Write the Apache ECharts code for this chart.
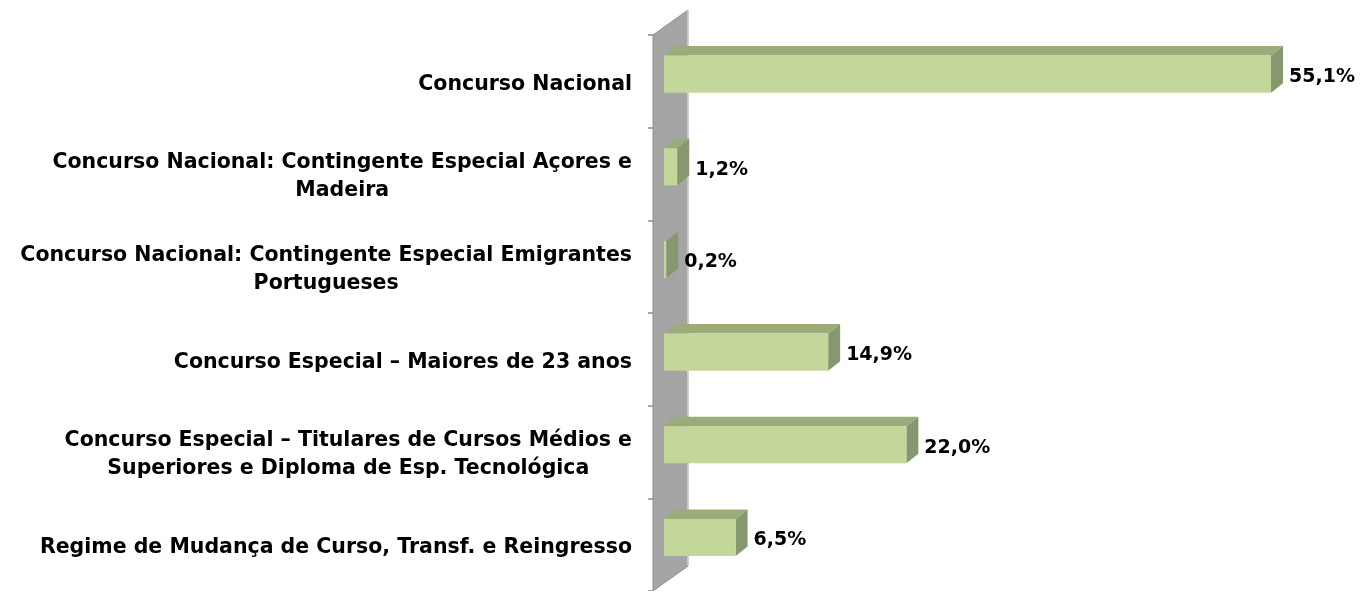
<!DOCTYPE html>
<html>
<head>
<meta charset="utf-8">
<script src="https://cdn.jsdelivr.net/npm/echarts@6/dist/echarts.min.js"></script>
<style>
  html, body { margin: 0; padding: 0; background: #fff; }
  #chart { width: 1370px; height: 591px; }
</style>
</head>
<body>
<div id="chart"></div>
<script>
const categories = [
  'Concurso Nacional',
  'Concurso Nacional: Contingente Especial Açores e\nMadeira',
  'Concurso Nacional: Contingente Especial Emigrantes\nPortugueses',
  'Concurso Especial – Maiores de 23 anos',
  'Concurso Especial – Titulares de Cursos Médios e\nSuperiores e Diploma de Esp. Tecnológica',
  'Regime de Mudança de Curso, Transf. e Reingresso'
]
const values = [55.1, 1.2, 0.2, 14.9, 22.0, 6.5]

const FONT = '"DejaVu Sans", sans-serif'
const DX = 12
const DY = 9.5

const chart = echarts.init(document.getElementById('chart'), null, { renderer: 'canvas' })

// side wall behind the bars
function renderWall(params, api) {
  const cs = params.coordSys
  const x0 = cs.x - 11
  const top = cs.y
  const bot = cs.y + cs.height
  const d = 35
  const dy = 25
  return {
    type: 'group',
    children: [
      {
        type: 'polygon',
        shape: { points: [[x0, top], [x0 + d, top - dy], [x0 + d, bot - dy], [x0, bot]] },
        style: { fill: '#a5a5a5', stroke: '#8f8f8f', lineWidth: 1 }
      },
      {
        type: 'line',
        shape: { x1: x0 + d, y1: top - dy, x2: x0 + d, y2: bot - dy },
        style: { stroke: '#d4d4d4', lineWidth: 1.5 }
      }
    ]
  }
}

function renderBar(params, api) {
  const cat = api.value(0)
  const v = api.value(1)
  const p0 = api.coord([0, cat])
  const p1 = api.coord([v, cat])
  const band = api.size([0, 1])[1]
  const h = band * 0.4
  const mid = p0[1] - band * 0.078
  const yT = mid - h / 2
  const yB = mid + h / 2
  const x0 = p0[0]
  const x1 = p1[0]
  return {
    type: 'group',
    children: [
      {
        type: 'polygon',
        shape: { points: [[x0, yT], [x0 + DX, yT - DY], [x1 + DX, yT - DY], [x1, yT]] },
        style: { fill: '#9bab79' }
      },
      {
        type: 'polygon',
        shape: { points: [[x1, yT], [x1 + DX, yT - DY], [x1 + DX, yB - DY], [x1, yB]] },
        style: { fill: '#879870' }
      },
      {
        type: 'rect',
        shape: { x: x0, y: yT, width: x1 - x0, height: h },
        style: { fill: '#c4d79b' }
      },
      {
        type: 'text',
        x: x1 + DX + 6,
        y: mid + 3,
        style: {
          text: v.toFixed(1).replace('.', ',') + '%',
          fill: '#000',
          font: 'bold 19px ' + FONT,
          textVerticalAlign: 'middle'
        }
      }
    ]
  }
}

chart.setOption({
  animation: false,
  grid: { left: 664, right: 45, top: 35, bottom: -5 },
  xAxis: {
    type: 'value',
    min: 0,
    max: 60,
    show: false
  },
  yAxis: {
    type: 'category',
    inverse: true,
    data: categories,
    offset: 11,
    axisLine: { show: false, onZero: false },
    axisTick: { show: true, length: 5, lineStyle: { color: '#8c8c8c', width: 1.5 } },
    axisLabel: {
      margin: 21,
      align: 'right',
      padding: [6, 0, 0, 0],
      formatter: (s) => s.split('\n').map((l) => '{c|' + l + '}').join('\n'),
      rich: {
        c: {
          align: 'center',
          fontFamily: FONT,
          fontWeight: 'bold',
          fontSize: 20.5,
          lineHeight: 28,
          color: '#000'
        }
      }
    }
  },
  series: [
    {
      type: 'custom',
      renderItem: renderWall,
      data: [[0, 0]],
      silent: true
    },
    {
      type: 'custom',
      renderItem: renderBar,
      encode: { x: 1, y: 0 },
      data: values.map((v, i) => [i, v])
    }
  ]
})
</script>
</body>
</html>
